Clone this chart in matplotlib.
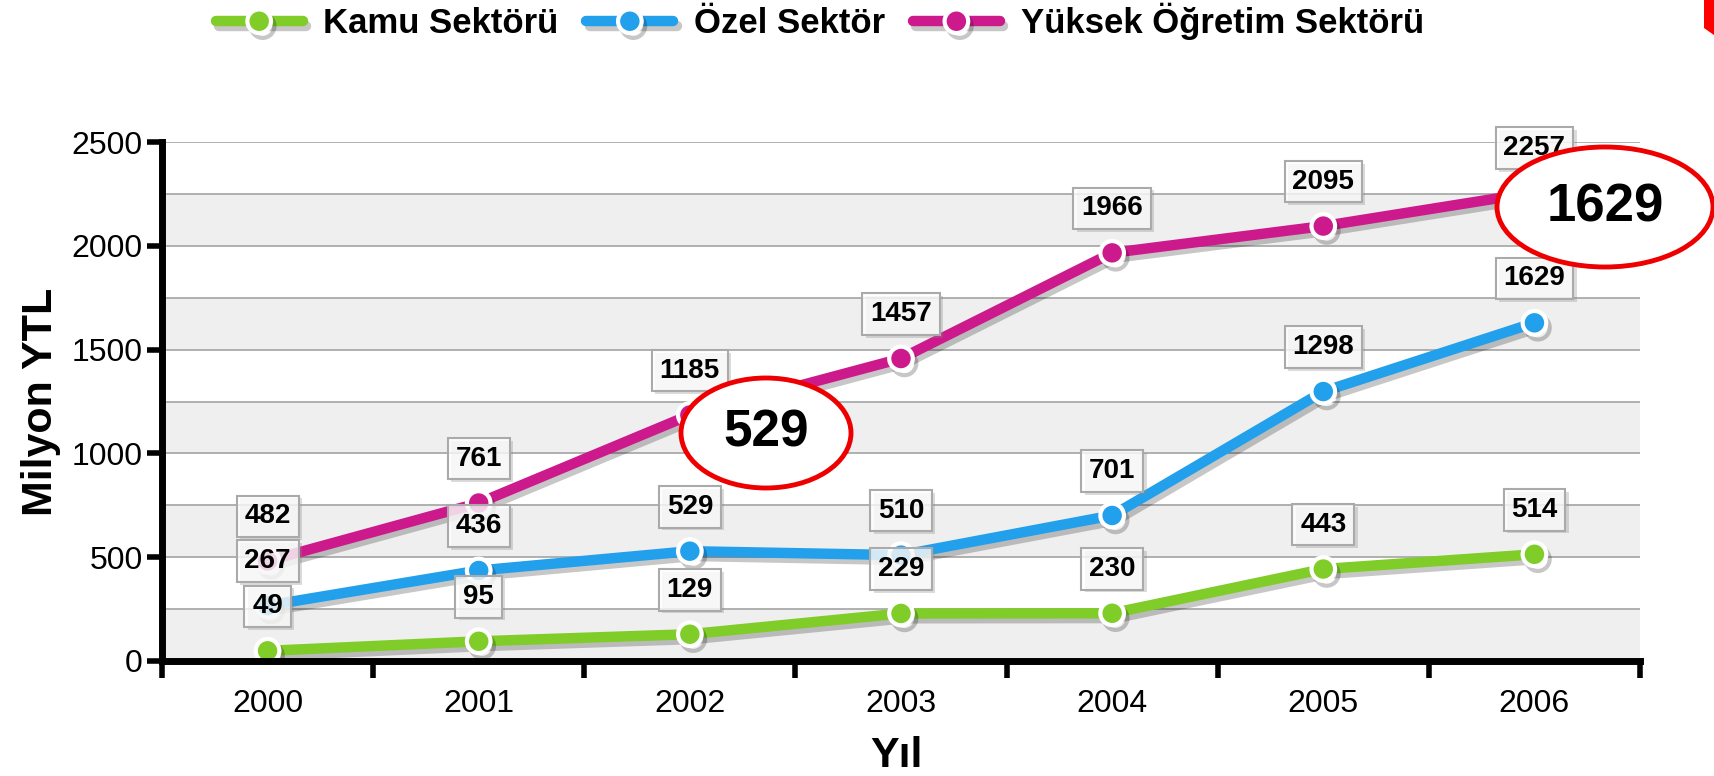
import matplotlib
matplotlib.use("Agg")
import matplotlib.pyplot as plt
import matplotlib.patheffects as pe
from matplotlib.patches import Ellipse, Polygon

plt.rcParams['font.family'] = ['Liberation Sans', 'DejaVu Sans']

years = ["2000", "2001", "2002", "2003", "2004", "2005", "2006"]
kamu = [49, 95, 129, 229, 230, 443, 514]
ozel = [267, 436, 529, 510, 701, 1298, 1629]
yuksek = [482, 761, 1185, 1457, 1966, 2095, 2257]
series_names = ["Kamu Sektörü", "Özel Sektör", "Yüksek Öğretim Sektörü"]
series_colors = ["#80cc28", "#22a0ec", "#cc1a8c"]
yticks = [0, 500, 1000, 1500, 2000, 2500]
callout_texts = ["529", "1629"]

W, H = 1715, 776
fig = plt.figure(figsize=(W / 100, H / 100), dpi=100)
ax = fig.add_axes([162 / W, 1 - 661 / H, (1640 - 162) / W, (661 - 142) / H])

x = list(range(len(years)))
ax.set_xlim(-0.5, len(years) - 0.5)
ax.set_ylim(0, 2500)

# bands and grid
for lo in range(0, 2500, 500):
    ax.axhspan(lo, lo + 250, color="#efefef", zorder=0, lw=0)
for g in range(250, 2501, 250):
    ax.axhline(g, color="#aaaaaa", lw=1.3, zorder=0.5)

shadow = [pe.SimpleLineShadow(offset=(2.5, -3.5), shadow_color="k", alpha=0.22),
          pe.Normal()]

for vals, name, col in zip([kamu, ozel, yuksek], series_names, series_colors):
    ax.plot(x, vals, color=col, lw=7.5, marker="o", markersize=17,
            markerfacecolor=col, markeredgecolor="white", markeredgewidth=3,
            label=name, zorder=3, path_effects=shadow, solid_capstyle="round")

for vals in [kamu, ozel, yuksek]:
    for xi, v in zip(x, vals):
        ax.annotate(str(v), (xi, v), xytext=(2.5, 30), textcoords="offset points",
                    ha="center", va="center", fontsize=20, fontweight="bold",
                    color=(0, 0, 0, 0), zorder=4,
                    bbox=dict(boxstyle="square,pad=0.28", fc="#888888", ec="none", alpha=0.3))
        ax.annotate(str(v), (xi, v), xytext=(0, 32), textcoords="offset points",
                    ha="center", va="center", fontsize=20, fontweight="bold",
                    color="black", zorder=5,
                    bbox=dict(boxstyle="square,pad=0.28", fc=(1, 1, 1, 0.78),
                              ec="#aaaaaa", lw=1.5))

# axes styling
for s in ["top", "right"]:
    ax.spines[s].set_visible(False)
for s in ["left", "bottom"]:
    ax.spines[s].set_linewidth(5)
    ax.spines[s].set_zorder(6)
ax.set_yticks(yticks)
ax.set_yticklabels([str(t) for t in yticks])
ax.set_xticks([i - 0.5 for i in range(len(years) + 1)])
ax.set_xticklabels([])
ax.set_xticks(x, minor=True)
ax.set_xticklabels(years, minor=True)
ax.tick_params(axis="x", which="major", length=12, width=4, direction="out")
ax.tick_params(axis="x", which="minor", length=0, pad=20, labelsize=23)
ax.tick_params(axis="y", length=11, width=4, direction="out", pad=3, labelsize=23)

ax.set_ylabel("Milyon YTL", fontsize=31, fontweight="bold")
ax.yaxis.set_label_coords(-0.068, 0.5)
ax.set_xlabel("Yıl", fontsize=31, fontweight="bold")
ax.xaxis.set_label_coords(0.497, -0.145)

leg = fig.legend(loc="center", bbox_to_anchor=(0.478, 0.972), ncol=3, frameon=False,
                 prop=dict(weight="bold", size=25), handlelength=2.5,
                 handletextpad=0.6, columnspacing=0.8, numpoints=1)

# callout ellipses
callouts = [((766 / W, 1 - 433 / H), 170 / W, 110 / H, 37),
            ((1605 / W, 1 - 207 / H), 216 / W, 120 / H, 38)]
for (c, w, h, fs), txt in zip(callouts, callout_texts):
    e = Ellipse(c, w, h, transform=fig.transFigure, fc="white", ec="#ee0000",
                lw=3.5, zorder=10, clip_on=False)
    fig.add_artist(e)
    fig.text(c[0], c[1], txt, ha="center", va="center", fontsize=fs,
             fontweight="bold", zorder=11)

fig.add_artist(Polygon([(1704 / W, 1), (1 + 0.001, 1), (1 + 0.001, 1 - 37 / H), (1704 / W, 1 - 28 / H)],
                       closed=True, transform=fig.transFigure, fc="#ff0000", ec="none"))

fig.savefig("out.png", dpi=100)
